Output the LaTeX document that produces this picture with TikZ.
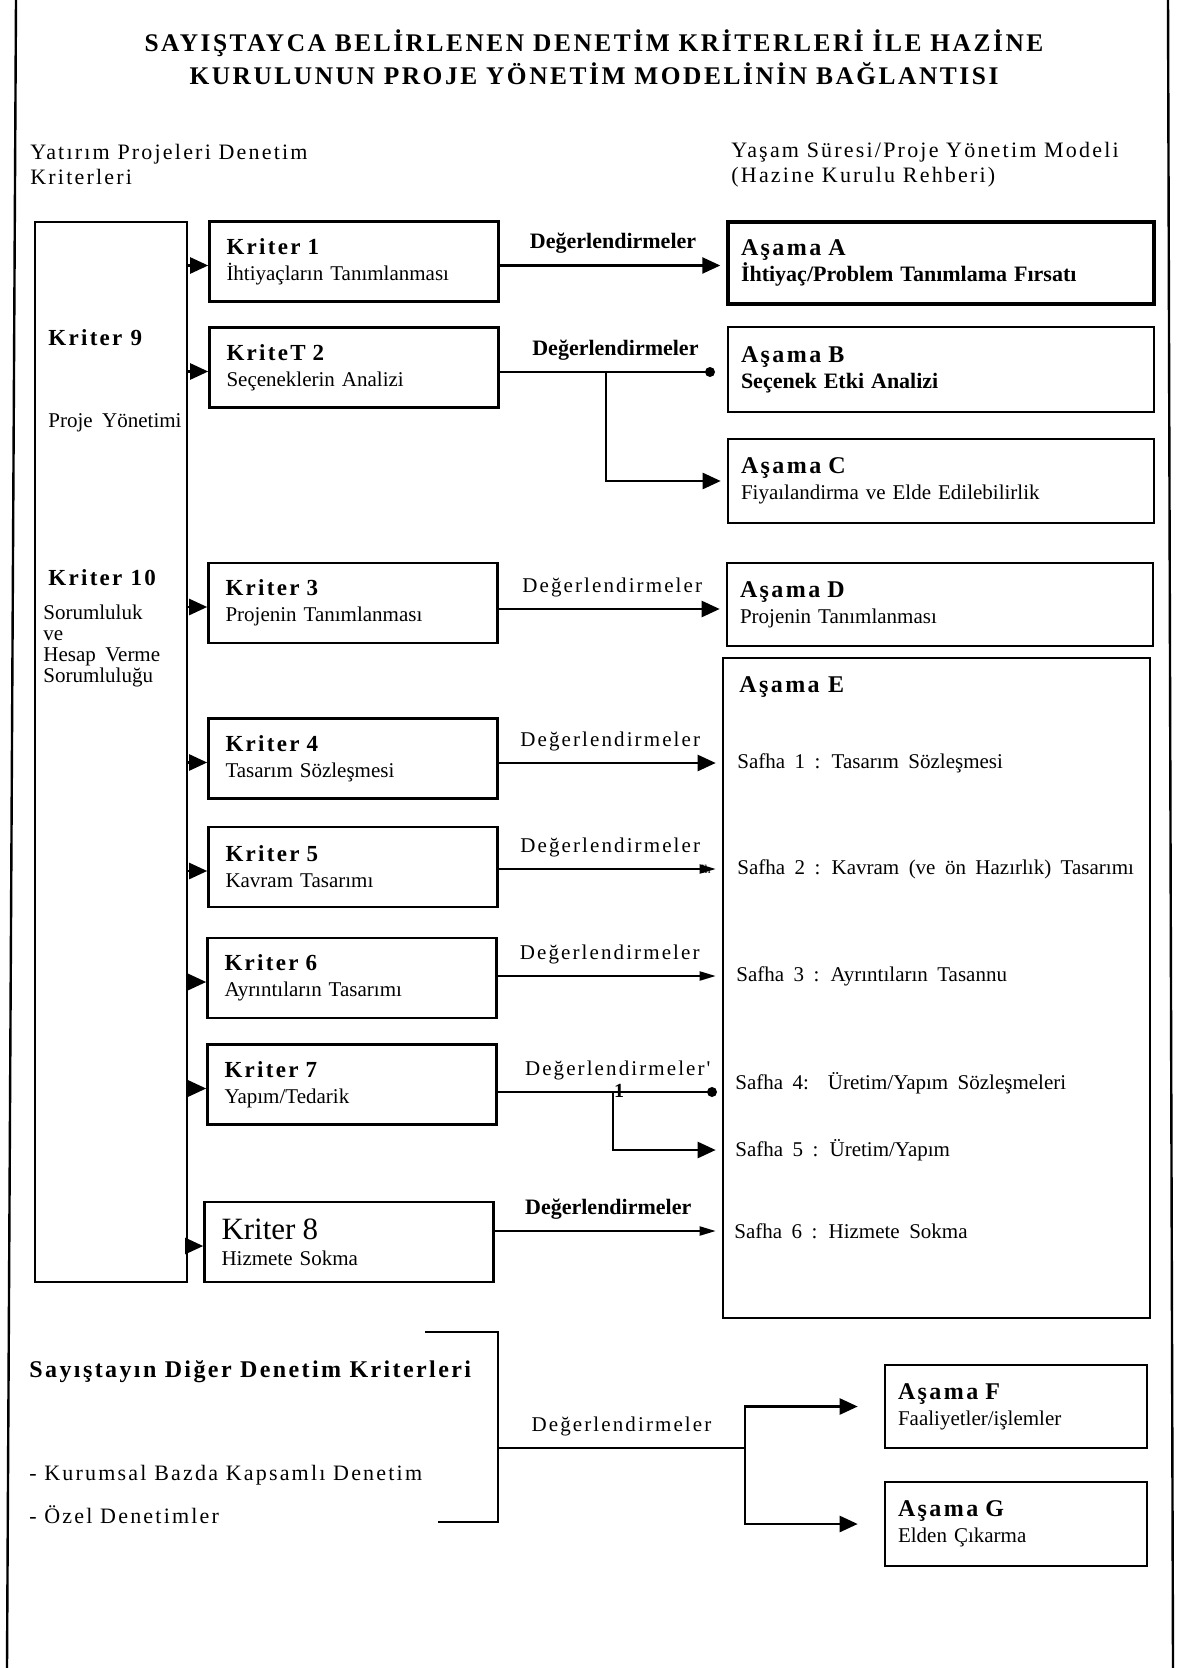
\documentclass[tikz,border=0pt]{standalone}
\usepackage{fontspec}
\setmainfont{Liberation Serif}
\newfontfamily\spacedfont[LetterSpace=10]{Liberation Serif}
\newfontfamily\widefont[WordSpace=1.8]{Liberation Serif}
\usetikzlibrary{calc,positioning,arrows.meta}

\newcommand{\fsz}[1]{\fontsize{#1}{13}\selectfont}
\newcommand{\baslik}[1]{{\spacedfont\bfseries\fsz{11.5}#1}}
\newcommand{\asama}[1]{{\spacedfont\bfseries\fsz{12}#1}}

\begin{document}
\begin{tikzpicture}[x=0.5pt,y=-0.5pt,>={Triangle[length=9pt,width=8pt]}]
      \tikzset{
	  kbox/.style={draw, line width=1.3pt, minimum width=144.5pt, minimum height=40pt, text width=127.5pt, inner xsep=8.5pt, align=left, font=\widefont\fsz{10.5}},
	  abox/.style={draw, line width=1.3pt, minimum width=213pt, text width=200pt, inner xsep=6.5pt, align=left, font=\widefont\fsz{10.5}},
	  conn/.style={line width=1.2pt, ->, shorten >=3pt},
	  smallconn/.style={line width=1pt, -{Triangle[length=8pt,width=4.5pt]}, shorten >=3pt},
	  lbl/.style={midway, above=2pt, font=\spacedfont\fsz{10.5}},
	  boldlbl/.style={midway, above=2pt, font=\bfseries\fsz{11}},
	  safha/.style={anchor=west, inner sep=0pt, font=\widefont\fsz{10.5}},
	  plain/.style={anchor=west, inner sep=0pt, align=left},
      }
      \useasboundingbox (0,0) rectangle (1180,1668);
      \draw[line width=1.2pt] (16,0) -- (7,1668);
      \draw[line width=1.2pt] (1168,0) -- (1173,1668);

      \node (baslik) at (594,57.5) [align=center, font=\spacedfont\bfseries\fontsize{12.7}{16.5}\selectfont] {SAYIŞTAYCA BELİRLENEN DENETİM KRİTERLERİ İLE HAZİNE\\KURULUNUN PROJE YÖNETİM MODELİNİN BAĞLANTISI};
      \node (solbas) at (30,164.5) [plain, font=\spacedfont\fontsize{11}{12.5}\selectfont] {Yatırım Projeleri Denetim\\Kriterleri};
      \node (sagbas) at (731,164.5) [plain, font=\spacedfont\fontsize{11}{12.5}\selectfont] {Yaşam Süresi/Proje Yönetim Modeli\\(Hazine Kurulu Rehberi)};

      \node (k9) at (111,752) [draw, line width=1.3pt, minimum width=76pt, minimum height=530pt] {};
      \node (k9t) at (48,338) [plain] {\baslik{Kriter 9}};
      \node (k9s) at (48,423) [plain, font=\widefont\fsz{10.5}] {Proje Yönetimi};
      \node (k10t) at (48,578) [plain] {\baslik{Kriter 10}};
      \node (k10s) at (43,605) [plain, anchor=north west, font=\widefont\fontsize{10.5}{10.5}\selectfont] {Sorumluluk\\ve\\Hesap Verme\\Sorumluluğu};

      \node (k1) at (354,261.5) [kbox] {\baslik{Kriter 1}\\İhtiyaçların Tanımlanması};
      \node (k2) at (354,367.5) [kbox] {\baslik{KriteT 2}\\Seçeneklerin Analizi};
      \node (k3) at (353,603) [kbox] {\baslik{Kriter 3}\\Projenin Tanımlanması};
      \node (k4) at (353,758.5) [kbox] {\baslik{Kriter 4}\\Tasarım Sözleşmesi};
      \node (k5) at (353,867) [kbox] {\baslik{Kriter 5}\\Kavram Tasarımı};
      \node (k6) at (352,978) [kbox] {\baslik{Kriter 6}\\Ayrıntıların Tasarımı};
      \node (k7) at (352,1084.5) [kbox] {\baslik{Kriter 7}\\Yapım/Tedarik};
      \node (k8) at (349,1242) [kbox] {{\fsz{15.5}Kriter 8}\\Hizmete Sokma};

      \node (aa) at (941,263) [abox, line width=1.7pt, minimum height=41pt] {\asama{Aşama A}\\\textbf{\fsz{11}İhtiyaç/Problem Tanımlama Fırsatı}};
      \node (ab) at (941,369.5) [abox, minimum height=42.5pt] {\asama{Aşama B}\\\textbf{\fsz{11}Seçenek Etki Analizi}};
      \node (ac) at (941,481) [abox, minimum height=42pt] {\asama{Aşama C}\\Fiyaılandirma ve Elde Edilebilirlik};
      \node (ad) at (940,604.5) [abox, minimum height=41.5pt] {\asama{Aşama D}\\Projenin Tanımlanması};

      \node (ae) at (936.5,988) [draw, line width=1.3pt, minimum width=213.5pt, minimum height=330pt] {};
      \node (aet) at (739,687) [plain] {\asama{Aşama E}};
      \node (s1) at (737,763) [safha] {Safha 1 : Tasarım Sözleşmesi};
      \node (s2) at (737,869) [safha] {Safha 2 : Kavram (ve ön Hazırlık) Tasarımı};
      \node (s3) at (736,976) [safha] {Safha 3 : Ayrıntıların Tasannu};
      \node (s4) at (735,1083) [safha] {Safha 4:\ \ Üretim/Yapım Sözleşmeleri};
      \node (s5) at (735,1150) [safha] {Safha 5 : Üretim/Yapım};
      \node (s6) at (734,1231) [safha] {Safha 6 : Hizmete Sokma};

      \foreach \k in {k1,k2,k3,k4,k5,k6,k7,k8}
	\draw[conn, shorten >=0pt] ([yshift=-2pt]k9.east |- \k.west) -- ([yshift=-2pt]\k.west);

      \draw[conn] ([yshift=-2pt]k1.east) -- ([yshift=-2pt]k1.east -| aa.west) node[boldlbl] {Değerlendirmeler};

      \coordinate (j2) at (606,372);
      \coordinate (bdot) at (710,372);
      \draw[line width=1.2pt] (k2.east |- j2) -- (bdot) node[boldlbl, pos=0.55] {Değerlendirmeler};
      \fill (bdot) circle (2.5pt);
      \draw[conn] (j2) |- (ac.west);

      \draw[conn] ([yshift=-3pt]k3.east) -- ([yshift=-3pt]k3.east -| ad.west) node[lbl] {Değerlendirmeler};
      \draw[conn] (k4.east |- s1.west) -- (s1.west -| ae.west) node[lbl] {Değerlendirmeler};
      \draw[smallconn] (k5.east |- s2.west) -- (s2.west -| ae.west) node[lbl] {Değerlendirmeler};
      \node (lh) at (706,869) [font=\fontsize{6}{6}\selectfont, inner sep=0pt] {lh};
      \draw[smallconn] (k6.east |- s3.west) -- (s3.west -| ae.west) node[lbl] {Değerlendirmeler};

      \coordinate (j7) at (613,1092);
      \coordinate (sdot) at (712,1092);
      \draw[line width=1pt] (k7.east |- j7) -- (sdot) node[lbl, pos=0.56] {Değerlendirmeler'};
      \fill (sdot) circle (2.5pt);
      \node (bir) at (619,1091) [font=\bfseries\fsz{10}, inner sep=0pt] {1};
      \draw[conn] (j7) |- (s5.west -| ae.west);

      \draw[smallconn] (k8.east |- s6.west) -- (s6.west -| ae.west) node[boldlbl] {Değerlendirmeler};

      \node (diger) at (29,1372) [plain, font=\spacedfont\bfseries\fsz{12}] {Sayıştayın Diğer Denetim Kriterleri};
      \node (kurumsal) at (29,1475) [plain, font=\spacedfont\fsz{11}] {- Kurumsal Bazda Kapsamlı Denetim};
      \node (ozel) at (29,1515) [plain, font=\spacedfont\fsz{11}] {- Özel Denetimler};

      \node (af) at (1016,1406.5) [abox, minimum width=131pt, text width=118pt, minimum height=41.5pt] {\asama{Aşama F}\\Faaliyetler/işlemler};
      \node (ag) at (1016,1524) [abox, minimum width=131pt, text width=118pt, minimum height=42pt] {\asama{Aşama G}\\Elden Çıkarma};

      \coordinate (btl) at (425,1332);
      \coordinate (bt) at (498,1332);
      \coordinate (bb) at (498,1522);
      \coordinate (bbl) at (438,1522);
      \coordinate (bm) at (498,1448);
      \coordinate (jb) at (745,1448);
      \draw[line width=1.1pt] (btl) -- (bt) -- (bb) -- (bbl);
      \draw[line width=1.1pt] (bm) -- (jb) node[lbl] {Değerlendirmeler};
      \draw[conn, shorten >=13pt] (jb) |- (af.west);
      \draw[conn, shorten >=13pt] (jb) |- (ag.west);
    \end{tikzpicture}
\end{document}
